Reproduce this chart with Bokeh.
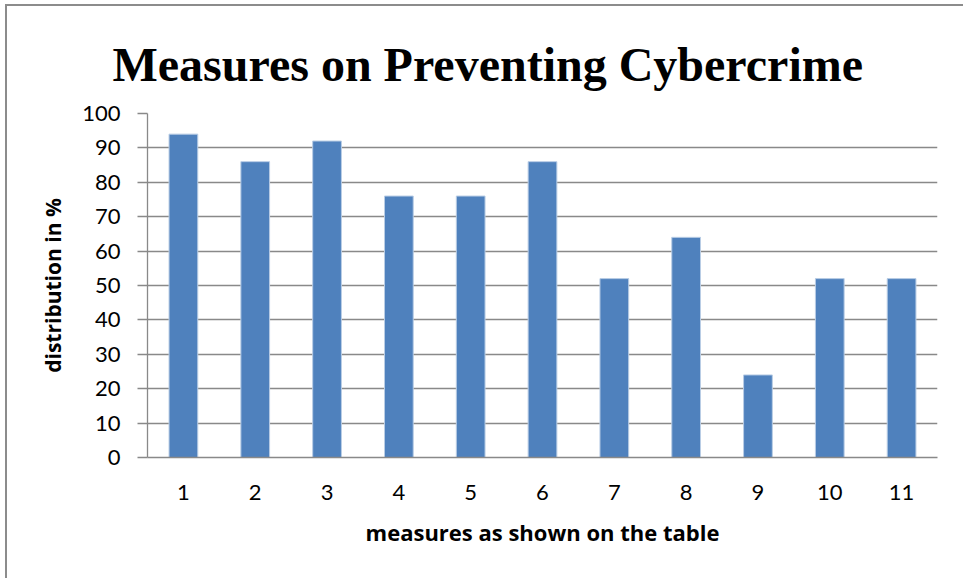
from bokeh.plotting import figure
from bokeh.models import FactorRange, Range1d, FixedTicker, ColumnDataSource
from bokeh.embed import file_html
from bokeh.resources import INLINE

# Share of respondents supporting each cybercrime prevention measure
measures = ["1", "2", "3", "4", "5", "6", "7", "8", "9", "10", "11"]
distribution = [94, 86, 92, 76, 76, 86, 52, 64, 24, 52, 52]
y_ticks = [0, 10, 20, 30, 40, 50, 60, 70, 80, 90, 100]

BAR = "#4F81BD"
GRID = "#898989"
TICK_FONT = "Lato"
LABEL_FONT = "Open Sans"

source = ColumnDataSource(data=dict(measure=measures, value=distribution))

p = figure(
    x_range=FactorRange(*measures, range_padding=0),
    y_range=Range1d(0, 100),
    width=958, height=574,
    output_backend="svg", toolbar_location=None,
    min_border_left=140, min_border_right=28,
    min_border_top=107, min_border_bottom=123,
    title="Measures on Preventing Cybercrime",
)
p.margin = (4, 0, 0, 5)
p.styles = {"border-left": "2px solid #8c8c8c", "border-top": "2px solid #8c8c8c"}

p.vbar(x="measure", top="value", width=0.4, source=source,
       fill_color=BAR, line_color="#b9cde5", line_width=1)

p.title.text_font = "Liberation Serif"
p.title.text_font_style = "bold"
p.title.text_font_size = "48px"
p.title.text_line_height = 0.8
p.title.align = "left"
p.title.offset = -35
p.title.text_color = "black"
p.title.standoff = 46

p.outline_line_color = None
p.background_fill_color = "white"
p.border_fill_color = "white"

p.xgrid.grid_line_color = None
p.ygrid.ticker = FixedTicker(ticks=y_ticks)
p.ygrid.grid_line_color = GRID
p.ygrid.grid_line_width = 1.3

yaxis = p.yaxis[0]
yaxis.ticker = FixedTicker(ticks=y_ticks)
yaxis.axis_line_color = GRID
yaxis.axis_line_width = 1.3
yaxis.major_tick_line_color = GRID
yaxis.major_tick_line_width = 1.3
yaxis.major_tick_out = 10
yaxis.major_tick_in = 0
yaxis.minor_tick_line_color = None
yaxis.major_label_standoff = 17
yaxis.major_label_text_font = TICK_FONT
yaxis.major_label_text_font_size = "22px"
yaxis.major_label_text_color = "black"
yaxis.axis_label = "distribution in %"
yaxis.axis_label_text_font = LABEL_FONT
yaxis.axis_label_text_font_style = "bold"
yaxis.axis_label_text_font_size = "21px"
yaxis.axis_label_text_color = "black"
yaxis.axis_label_standoff = 12

xaxis = p.xaxis[0]
xaxis.axis_line_color = GRID
xaxis.axis_line_width = 1.3
xaxis.major_tick_line_color = None
xaxis.minor_tick_line_color = None
xaxis.major_label_standoff = 21
xaxis.major_label_text_font = TICK_FONT
xaxis.major_label_text_font_size = "22px"
xaxis.major_label_text_color = "black"
xaxis.axis_label = "measures as shown on the table"
xaxis.axis_label_text_font = LABEL_FONT
xaxis.axis_label_text_font_style = "bold"
xaxis.axis_label_text_font_size = "22px"
xaxis.axis_label_text_color = "black"
xaxis.axis_label_standoff = 14

open("out.html", "w").write(file_html(p, INLINE))
